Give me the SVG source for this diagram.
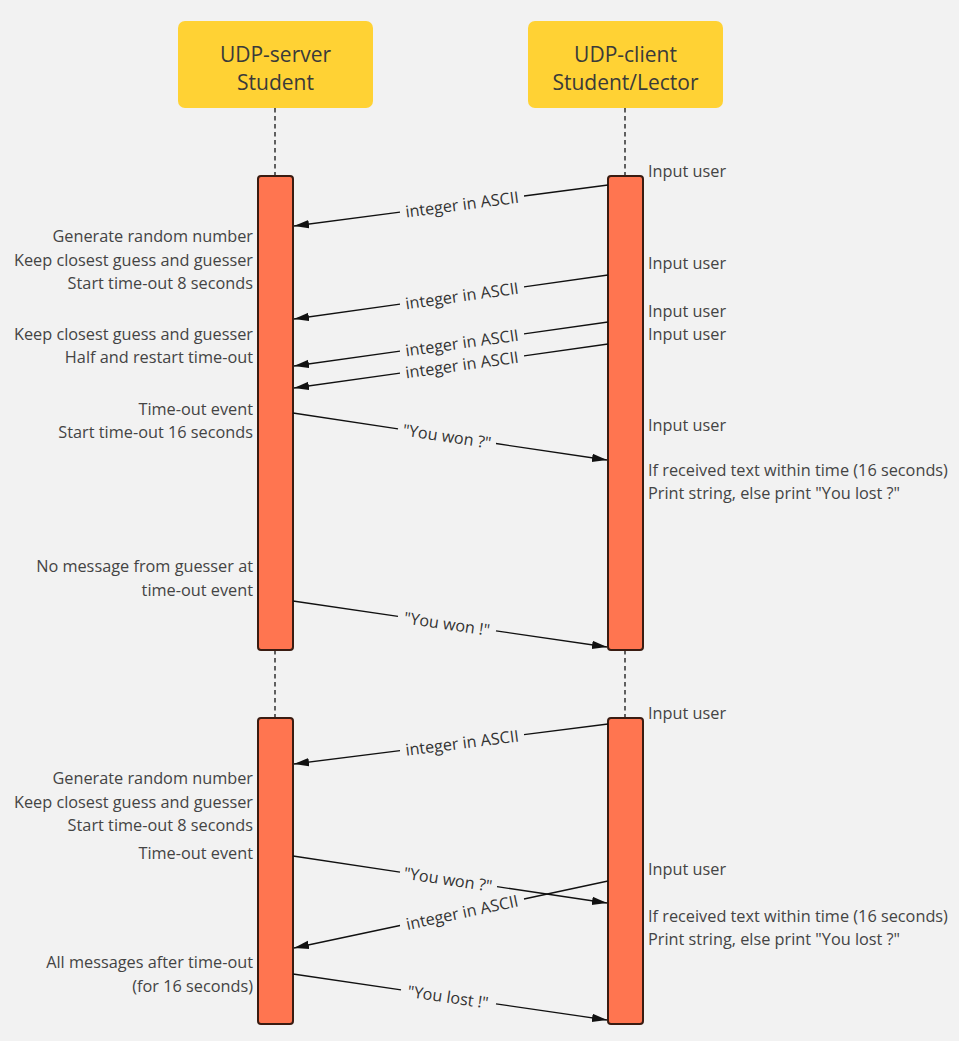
<svg xmlns="http://www.w3.org/2000/svg" width="959" height="1041" viewBox="0 0 959 1041">
<style>
.hdr{fill:#FFD234;}
.hdrt{font-family:"Open Sans","Noto Sans",sans-serif;font-size:21px;fill:#3a3a3a;text-anchor:middle;}
.act{fill:#FF7550;stroke:#3A1C12;stroke-width:2;}
.life{stroke:#111;stroke-width:1.3;stroke-dasharray:4.5,3.5;fill:none;}
.ln{stroke:#111;stroke-width:1.3;fill:none;}
.lbl{font-family:"Open Sans","Noto Sans",sans-serif;font-size:16.2px;fill:#333;text-anchor:middle;dominant-baseline:central;}
.nl{font-family:"Open Sans","Noto Sans",sans-serif;font-size:16.3px;fill:#444;text-anchor:end;}
.nr{font-family:"Open Sans","Noto Sans",sans-serif;font-size:16.3px;fill:#444;text-anchor:start;}
</style>
<defs>
<marker id="ah" markerUnits="userSpaceOnUse" markerWidth="16" markerHeight="10" refX="15" refY="5" orient="auto">
<path d="M0,0.8 L15,5 L0,9.2 z" fill="#111"/>
</marker>
</defs>
<rect width="959" height="1041" fill="#F2F2F2"/>

<g id="lifelines">
<line class="life" x1="275" y1="108" x2="275" y2="176"/>
<line class="life" x1="625" y1="108" x2="625" y2="176"/>
<line class="life" x1="275" y1="650" x2="275" y2="718"/>
<line class="life" x1="625" y1="650" x2="625" y2="718"/>
</g>

<g id="server">
<rect class="hdr" x="178" y="21" width="195" height="87" rx="7"/>
<text class="hdrt" x="275.5" y="62">UDP-server</text>
<text class="hdrt" x="275.5" y="90">Student</text>
</g>
<g id="client">
<rect class="hdr" x="528" y="21" width="195" height="87" rx="7"/>
<text class="hdrt" x="625.5" y="62">UDP-client</text>
<text class="hdrt" x="625.5" y="90">Student/Lector</text>
</g>

<g id="server-act1"><rect class="act" x="258" y="176" width="35" height="474" rx="3"/></g>
<g id="client-act1"><rect class="act" x="608" y="176" width="35" height="474" rx="3"/></g>
<g id="server-act2"><rect class="act" x="258" y="718" width="35" height="306" rx="3"/></g>
<g id="client-act2"><rect class="act" x="608" y="718" width="35" height="306" rx="3"/></g>

<g id="connectors">
<line class="ln" x1="608" y1="185" x2="524" y2="196"/>
<line class="ln" x1="400" y1="212.2" x2="294" y2="226" marker-end="url(#ah)"/>
<text class="lbl" x="462" y="204.1" transform="rotate(-7.46 462 204.1)">integer in ASCII</text>

<line class="ln" x1="608" y1="275" x2="524" y2="286.8"/>
<line class="ln" x1="400" y1="304.2" x2="294" y2="319" marker-end="url(#ah)"/>
<text class="lbl" x="462" y="295.5" transform="rotate(-8 462 295.5)">integer in ASCII</text>

<line class="ln" x1="608" y1="322" x2="524" y2="333.8"/>
<line class="ln" x1="400" y1="351.2" x2="294" y2="366" marker-end="url(#ah)"/>
<text class="lbl" x="462" y="342.5" transform="rotate(-8 462 342.5)">integer in ASCII</text>

<line class="ln" x1="608" y1="344" x2="524" y2="355.8"/>
<line class="ln" x1="400" y1="373.2" x2="294" y2="388" marker-end="url(#ah)"/>
<text class="lbl" x="462" y="364.5" transform="rotate(-8 462 364.5)">integer in ASCII</text>

<line class="ln" x1="293" y1="413" x2="398" y2="428.8"/>
<line class="ln" x1="496" y1="443.5" x2="607" y2="460" marker-end="url(#ah)"/>
<text class="lbl" x="447" y="436.1" transform="rotate(8.54 447 436.1)">"You won ?"</text>

<line class="ln" x1="293" y1="601" x2="398" y2="616.4"/>
<line class="ln" x1="496" y1="630.8" x2="607" y2="647" marker-end="url(#ah)"/>
<text class="lbl" x="447" y="623.6" transform="rotate(8.36 447 623.6)">"You won !"</text>

<line class="ln" x1="608" y1="724" x2="524" y2="734.7"/>
<line class="ln" x1="400" y1="750.6" x2="294" y2="764" marker-end="url(#ah)"/>
<text class="lbl" x="462" y="742.7" transform="rotate(-7.28 462 742.7)">integer in ASCII</text>

<line class="ln" x1="293" y1="856" x2="400" y2="872.1"/>
<line class="ln" x1="497" y1="886.6" x2="607" y2="903" marker-end="url(#ah)"/>
<text class="lbl" x="448" y="879.3" transform="rotate(8.54 448 879.3)">"You won ?"</text>

<line class="ln" x1="608" y1="881" x2="524" y2="899"/>
<line class="ln" x1="400" y1="925.5" x2="294" y2="948" marker-end="url(#ah)"/>
<text class="lbl" x="462" y="912.2" transform="rotate(-12.08 462 912.2)">integer in ASCII</text>

<line class="ln" x1="293" y1="974" x2="401" y2="989.9"/>
<line class="ln" x1="496" y1="1003.8" x2="607" y2="1020" marker-end="url(#ah)"/>
<text class="lbl" x="448" y="996.8" transform="rotate(8.36 448 996.8)">"You lost !"</text>
</g>

<g id="server-notes">
<text class="nl" x="253" y="242">Generate random number</text>
<text class="nl" x="253" y="266">Keep closest guess and guesser</text>
<text class="nl" x="253" y="289">Start time-out 8 seconds</text>
<text class="nl" x="253" y="340">Keep closest guess and guesser</text>
<text class="nl" x="253" y="363">Half and restart time-out</text>
<text class="nl" x="253" y="415">Time-out event</text>
<text class="nl" x="253" y="438">Start time-out 16 seconds</text>
<text class="nl" x="253" y="572">No message from guesser at</text>
<text class="nl" x="253" y="596">time-out event</text>
<text class="nl" x="253" y="784">Generate random number</text>
<text class="nl" x="253" y="808">Keep closest guess and guesser</text>
<text class="nl" x="253" y="831">Start time-out 8 seconds</text>
<text class="nl" x="253" y="859">Time-out event</text>
<text class="nl" x="253" y="968">All messages after time-out</text>
<text class="nl" x="253" y="992">(for 16 seconds)</text>
</g>

<g id="client-notes">
<text class="nr" x="648" y="177">Input user</text>
<text class="nr" x="648" y="269">Input user</text>
<text class="nr" x="648" y="317">Input user</text>
<text class="nr" x="648" y="340">Input user</text>
<text class="nr" x="648" y="431">Input user</text>
<text class="nr" x="648" y="476">If received text within time (16 seconds)</text>
<text class="nr" x="648" y="499">Print string, else print "You lost ?"</text>
<text class="nr" x="648" y="719">Input user</text>
<text class="nr" x="648" y="875">Input user</text>
<text class="nr" x="648" y="922">If received text within time (16 seconds)</text>
<text class="nr" x="648" y="945">Print string, else print "You lost ?"</text>
</g>
</svg>
